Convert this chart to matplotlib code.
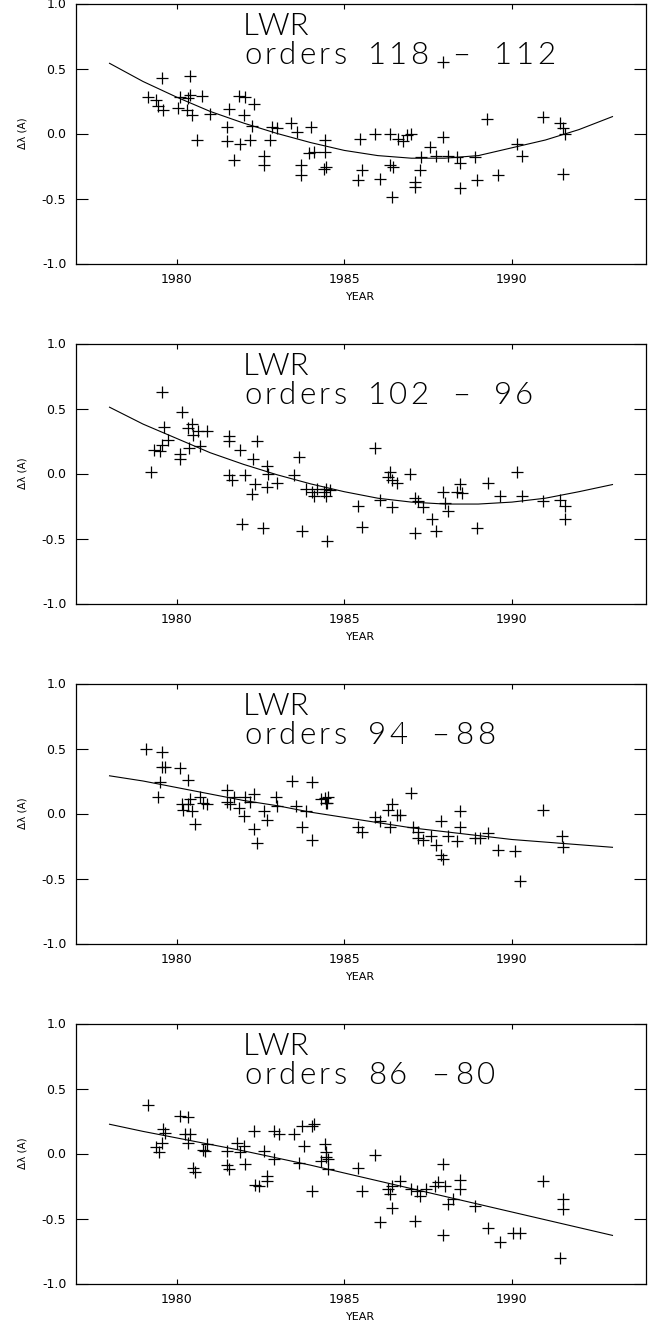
import numpy as np
import matplotlib
matplotlib.use('Agg')
import matplotlib.pyplot as plt
from matplotlib.ticker import FormatStrFormatter

# orders 118 - 112
year_1 = [1979.16, 1979.57, 1979.4, 1979.6, 1979.45, 1980.1, 1980.4, 1980.05, 1980.35, 1980.4,
          1980.3, 1980.45, 1980.6, 1980.75, 1981.0, 1981.55, 1981.5, 1981.5, 1981.7, 1981.85,
          1982.0, 1982.3, 1981.9, 1982.05, 1982.2, 1982.25, 1982.6, 1982.6, 1982.85, 1982.8,
          1983.0, 1983.4, 1983.6, 1984.0, 1983.7, 1983.7, 1983.95, 1984.1, 1984.4, 1984.42,
          1984.42, 1984.47, 1985.47, 1985.91, 1985.52, 1985.42, 1986.06, 1986.36, 1986.36, 1986.46,
          1986.41, 1986.6, 1986.76, 1986.86, 1987.0, 1987.1, 1987.1, 1987.26, 1987.55, 1987.3,
          1987.75, 1987.95, 1987.95, 1988.1, 1988.35, 1988.45, 1988.45, 1988.9, 1988.95, 1989.25,
          1989.6, 1990.14, 1990.29, 1990.93, 1991.43, 1991.58, 1991.53, 1991.53]
dlam_1 = [0.28, 0.43, 0.26, 0.18, 0.21, 0.28, 0.44, 0.2, 0.27, 0.3,
          0.18, 0.14, -0.05, 0.29, 0.15, 0.19, 0.05, -0.06, -0.2, 0.29,
          0.14, 0.23, -0.08, 0.28, -0.05, 0.06, -0.17, -0.24, 0.05, -0.05,
          0.04, 0.08, 0.01, 0.05, -0.24, -0.32, -0.15, -0.14, -0.27, -0.05,
          -0.14, -0.26, -0.04, 0.0, -0.28, -0.36, -0.35, 0.0, -0.24, -0.26,
          -0.49, -0.04, -0.06, -0.01, 0.0, -0.37, -0.41, -0.28, -0.1, -0.18,
          -0.17, -0.03, 0.55, -0.17, -0.18, -0.23, -0.42, -0.18, -0.36, 0.11,
          -0.32, -0.08, -0.17, 0.13, 0.08, 0.0, -0.31, 0.04]

# orders 102 - 96
year_2 = [1979.23, 1979.57, 1979.62, 1979.33, 1979.5, 1979.55, 1979.75, 1980.15, 1980.1, 1980.1,
          1980.35, 1980.45, 1980.48, 1980.38, 1980.65, 1980.7, 1980.9, 1981.55, 1981.55, 1981.9,
          1982.4, 1981.55, 1981.65, 1982.05, 1982.27, 1982.25, 1982.35, 1981.94, 1982.59, 1982.69,
          1982.74, 1982.69, 1983.0, 1983.5, 1983.65, 1983.75, 1983.85, 1984.05, 1984.1, 1984.2,
          1984.4, 1984.5, 1984.47, 1984.47, 1984.57, 1985.42, 1985.52, 1985.91, 1986.06, 1986.31,
          1986.36, 1986.41, 1986.56, 1986.41, 1986.96, 1987.11, 1987.11, 1987.21, 1987.36, 1987.61,
          1987.75, 1987.95, 1988.0, 1988.1, 1988.35, 1988.45, 1988.5, 1988.95, 1989.3, 1989.65,
          1990.14, 1990.29, 1990.93, 1991.43, 1991.58, 1991.58]
dlam_2 = [0.01, 0.63, 0.36, 0.18, 0.17, 0.22, 0.26, 0.47, 0.15, 0.11,
          0.35, 0.38, 0.3, 0.2, 0.33, 0.21, 0.33, 0.29, 0.25, 0.18,
          0.25, -0.01, -0.05, -0.01, 0.11, -0.16, -0.08, -0.39, -0.42, 0.06,
          0.0, -0.1, -0.07, -0.01, 0.13, -0.44, -0.12, -0.14, -0.17, -0.12,
          -0.14, -0.52, -0.12, -0.17, -0.13, -0.25, -0.41, 0.2, -0.2, -0.03,
          0.01, -0.05, -0.07, -0.26, 0.0, -0.19, -0.46, -0.21, -0.26, -0.35,
          -0.44, -0.14, -0.23, -0.29, -0.14, -0.08, -0.15, -0.42, -0.07, -0.17,
          0.01, -0.17, -0.21, -0.2, -0.25, -0.35]

# orders 94 - 88
year_3 = [1979.1, 1979.57, 1979.55, 1979.65, 1979.52, 1979.45, 1980.1, 1980.35, 1980.15, 1980.2,
          1980.35, 1980.4, 1980.45, 1980.55, 1980.7, 1980.8, 1980.9, 1981.5, 1981.5, 1981.6,
          1981.7, 1981.85, 1982.0, 1982.05, 1982.3, 1982.3, 1982.4, 1982.2, 1982.6, 1982.7,
          1982.95, 1983.0, 1983.45, 1983.55, 1983.75, 1984.05, 1984.05, 1983.85, 1984.3, 1984.5,
          1984.42, 1984.47, 1984.52, 1985.42, 1985.52, 1985.91, 1986.06, 1986.31, 1986.41, 1986.56,
          1986.36, 1986.65, 1987.0, 1987.06, 1987.21, 1987.21, 1987.36, 1987.6, 1987.75, 1987.9,
          1987.95, 1987.9, 1988.1, 1988.45, 1988.45, 1988.35, 1988.9, 1989.05, 1989.3, 1989.6,
          1990.09, 1990.24, 1990.93, 1991.48, 1991.53]
dlam_3 = [0.5, 0.47, 0.36, 0.36, 0.24, 0.13, 0.35, 0.26, 0.07, 0.03,
          0.07, 0.11, 0.02, -0.08, 0.13, 0.08, 0.07, 0.18, 0.09, 0.07,
          0.13, 0.04, -0.02, 0.13, 0.15, -0.12, -0.23, 0.09, 0.02, -0.05,
          0.13, 0.06, 0.25, 0.06, -0.1, 0.24, -0.2, 0.02, 0.11, 0.08,
          0.12, 0.08, 0.13, -0.1, -0.14, -0.03, -0.06, 0.03, 0.07, -0.01,
          -0.1, -0.01, 0.16, -0.1, -0.14, -0.19, -0.2, -0.17, -0.24, -0.32,
          -0.35, -0.06, -0.17, 0.02, -0.1, -0.21, -0.19, -0.19, -0.15, -0.28,
          -0.29, -0.52, 0.03, -0.17, -0.26]

# orders 86 - 80
year_4 = [1979.16, 1979.4, 1979.48, 1979.6, 1979.65, 1979.55, 1980.1, 1980.35, 1980.25, 1980.4,
          1980.35, 1980.5, 1980.55, 1980.8, 1980.9, 1980.85, 1981.5, 1981.5, 1981.55, 1981.8,
          1981.9, 1982.0, 1982.05, 1982.3, 1982.35, 1982.45, 1982.6, 1982.7, 1982.7, 1982.9,
          1983.05, 1982.9, 1983.5, 1983.75, 1984.05, 1984.1, 1983.65, 1983.8, 1984.05, 1984.3,
          1984.45, 1984.42, 1984.47, 1984.52, 1984.52, 1985.42, 1985.52, 1985.91, 1986.06, 1986.31,
          1986.36, 1986.41, 1986.41, 1986.65, 1987.0, 1987.11, 1987.16, 1987.26, 1987.45, 1987.7,
          1987.8, 1987.95, 1988.0, 1987.95, 1988.1, 1988.25, 1988.45, 1988.45, 1988.9, 1989.3,
          1989.65, 1990.04, 1990.24, 1990.93, 1991.43, 1991.53, 1991.53]
dlam_4 = [0.37, 0.05, 0.01, 0.19, 0.16, 0.08, 0.29, 0.28, 0.15, 0.15,
          0.08, -0.11, -0.14, 0.03, 0.07, 0.02, 0.02, -0.09, -0.12, 0.08,
          0.01, 0.06, -0.08, 0.17, -0.24, -0.25, 0.02, -0.21, -0.17, 0.17,
          0.15, -0.04, 0.15, 0.21, 0.21, 0.23, -0.07, 0.06, -0.29, -0.06,
          -0.03, 0.07, 0.01, -0.04, -0.12, -0.11, -0.29, -0.01, -0.53, -0.27,
          -0.31, -0.25, -0.42, -0.21, -0.27, -0.52, -0.29, -0.33, -0.27, -0.25,
          -0.22, -0.08, -0.25, -0.63, -0.39, -0.35, -0.2, -0.27, -0.4, -0.57,
          -0.68, -0.61, -0.61, -0.21, -0.8, -0.35, -0.43]

# fitted trend curves
fit_year = [1978, 1979, 1980, 1981, 1982, 1983, 1984, 1985, 1986, 1987,
            1988, 1989, 1990, 1991, 1992, 1993]
fit_1 = [0.54, 0.40, 0.28, 0.17, 0.08, 0.0, -0.07, -0.13, -0.17, -0.19,
         -0.19, -0.17, -0.11, -0.05, 0.03, 0.13]
fit_2 = [0.51, 0.38, 0.27, 0.16, 0.07, -0.01, -0.08, -0.14, -0.19, -0.22,
         -0.235, -0.235, -0.22, -0.19, -0.14, -0.085]
fit_3 = [0.29, 0.25, 0.20, 0.15, 0.10, 0.06, 0.01, -0.03, -0.07, -0.11,
         -0.14, -0.17, -0.20, -0.22, -0.24, -0.26]
fit_4 = [0.225, 0.17, 0.12, 0.07, 0.02, -0.035, -0.09, -0.15, -0.21, -0.27,
         -0.33, -0.39, -0.45, -0.51, -0.57, -0.63]

order_labels = ['orders 118 \u2013 112', 'orders 102 \u2013 96',
                'orders 94 \u201388', 'orders 86 \u201380']

years = [year_1, year_2, year_3, year_4]
dlams = [dlam_1, dlam_2, dlam_3, dlam_4]
fits = [fit_1, fit_2, fit_3, fit_4]

# character advances of the old plotter's simplex font (font units)
ADV = {' ': 16, '\u2013': 26, 'o': 19, 'r': 13, 'd': 19, 'e': 18, 's': 17}
for c in '0123456789':
    ADV[c] = 20
UNIT = 1.07          # pixels per font unit
AX_W, AX_H = 570, 260
TITLE_FONT = dict(fontsize=22.5, color='black', family=['Lato', 'DejaVu Sans'],
                  fontweight=300)


def spaced_text(ax, s, x_px, base_px):
    """Write s one glyph per cell, starting x_px from the left and base_px below the top."""
    x = x_px
    for ch in s:
        w = ADV[ch] * UNIT
        if ch != ' ':
            ax.text((x + w / 2) / AX_W, 1 - base_px / AX_H, ch, transform=ax.transAxes,
                    ha='center', va='baseline', **TITLE_FONT)
        x += w


W, H = 656, 1327
fig = plt.figure(figsize=(W / 100, H / 100), dpi=100)

for i in range(4):
    top = 3.5 + 340 * i
    ax = fig.add_axes([76 / W, 1 - (top + AX_H) / H, AX_W / W, AX_H / H])
    ax.plot(years[i], dlams[i], '+', color='black', markersize=8.8, markeredgewidth=0.9)
    ax.plot(fit_year, fits[i], '-', color='black', linewidth=0.8)

    ax.set_xlim(1977, 1994)
    ax.set_ylim(-1.0, 1.0)
    ax.set_xticks([1980, 1985, 1990])
    ax.set_yticks([-1.0, -0.5, 0.0, 0.5, 1.0])
    ax.yaxis.set_major_formatter(FormatStrFormatter('%.1f'))
    ax.tick_params(axis='x', direction='in', top=True, length=3.8, width=0.8,
                   labelsize=9, pad=7)
    ax.tick_params(axis='y', direction='in', right=True, length=8.5, width=0.8,
                   labelsize=9, pad=7)
    for sp in ax.spines.values():
        sp.set_linewidth(0.9)

    ax.set_xlabel('YEAR', fontsize=8, labelpad=4.5)
    ax.set_ylabel('\u0394\u03bb (A)', fontsize=7.5, labelpad=10)

    ax.text(167 / AX_W, 1 - 31.8 / AX_H, 'LWR', transform=ax.transAxes,
            ha='left', va='baseline', **TITLE_FONT)
    spaced_text(ax, order_labels[i], 167, 60.8)

fig.savefig('out.png', dpi=100)
